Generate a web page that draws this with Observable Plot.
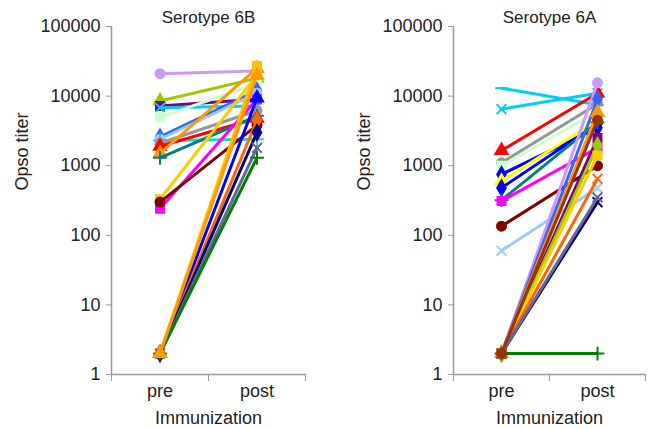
<!DOCTYPE html>
<html>
<head>
<meta charset="utf-8">
<script src="https://cdn.jsdelivr.net/npm/d3@7"></script>
<script src="https://cdn.jsdelivr.net/npm/@observablehq/plot@0.6"></script>
<style>
  html, body { margin: 0; padding: 0; background: #fff; }
  #wrap { position: relative; width: 655px; height: 429px; overflow: hidden; }
  #left { position: absolute; left: 0; top: 0; }
  #right { position: absolute; left: 327px; top: 0; }
</style>
</head>
<body>
<div id="wrap"><div id="left"></div><div id="right"></div></div>
<script>
// ---- shared labels ----
const categories = ["pre", "post"];
const yTicks = [1, 10, 100, 1000, 10000, 100000];
const yLabel = "Opso titer";
const xLabel = "Immunization";

// ---- Serotype 6B ----
const title6B = "Serotype 6B";
const pre6B  = [21000, 8500, 7200, 6800, 5000, 2600, 2400, 2300, 2100, 1900, 1500, 1300, 330, 240, 300, 2, 2, 2, 2, 2, 2, 2];
const post6B = [23000, 18000, 9000, 7200, 15000, 12000, 11000, 2400, 6200, 4800, 25000, 5200, 20000, 9000, 3800, 9400, 4500, 27000, 3000, 1800, 1300, 20000];
const colors6B = ["#cc99ff", "#99cc00", "#800080", "#00ccff", "#ccffcc", "#3366ff", "#99ccff", "#33cccc", "#969696", "#ff0000", "#ff9900", "#008080", "#ffcc00", "#ff00ff", "#800000", "#0000ff", "#ff6600", "#ffc000", "#000080", "#666699", "#008000", "#ff9900"];
const symbols6B = ["circle", "triangle", "square", "times", "square", "diamond", "circle", "plus", "circle", "triangle", "triangle", "plus", "square", "square", "circle", "triangle", "diamond", "square", "diamond", "times", "plus", "triangle"];

// ---- Serotype 6A ----
const title6A = "Serotype 6A";
const pre6A  = [13000, 6500, 1650, 1100, 1000, 750, 600, 480, 320, 310, 135, 60, 2, 2, 2, 2, 2, 2, 2, 2, 2, 2, 2];
const post6A = [7500, 11000, 11000, 7700, 6000, 3500, 4500, 4000, 4200, 1800, 1000, 480, 15500, 9000, 2500, 1950, 1400, 650, 5800, 300, 350, 2, 4500];
const colors6A = ["#00ccff", "#00ccff", "#ff0000", "#969696", "#ccffcc", "#0000ff", "#ffff00", "#0000ff", "#008080", "#ff00ff", "#800000", "#99ccff", "#cc99ff", "#3366ff", "#800080", "#99cc00", "#ffcc00", "#ff6600", "#ff9900", "#000080", "#666699", "#008000", "#993300"];
const symbols6A = ["dash", "times", "triangle", "circle", "square", "diamond", "triangle", "diamond", "plus", "square", "circle", "times", "circle", "diamond", "square", "diamond", "square", "times", "triangle", "times", "times", "plus", "circle"];

const dashSymbol = {
  draw(context, size) {
    const r = Math.sqrt(size / Math.PI) * 1.4;
    context.moveTo(-r, 0);
    context.lineTo(r, 0);
  }
};
function sym(name) { return name === "dash" ? dashSymbol : name; }

function panel(el, cfg) {
  const rows = [];
  cfg.pre.forEach((v, i) => {
    rows.push({id: i, x: 0.5, v, c: cfg.colors[i], s: cfg.symbols[i]});
    rows.push({id: i, x: 1.5, v: cfg.post[i], c: cfg.colors[i], s: cfg.symbols[i]});
  });
  const seriesMarks = [];
  cfg.pre.forEach((_, i) => {
    const sub = rows.filter(r => r.id === i);
    seriesMarks.push(Plot.line(sub, {x: "x", y: "v", stroke: "c", strokeWidth: 3}));
    seriesMarks.push(Plot.dot(sub, {x: "x", y: "v", symbol: sym(cfg.symbols[i]), r: 4.5, fill: "c", stroke: "c", strokeWidth: 2}));
  });
  const chart = Plot.plot({
    width: cfg.width,
    height: 429,
    marginTop: 26,
    marginBottom: 55,
    marginLeft: cfg.marginLeft,
    marginRight: cfg.marginRight,
    style: {fontFamily: "'Liberation Sans', Arial, sans-serif", fontSize: "18px", color: "#222", background: "#fff", overflow: "visible"},
    x: {type: "linear", domain: [0, 2], axis: null},
    y: {type: "log", domain: [1, 100000], axis: null},
    color: {type: "identity"},
    marks: [
      Plot.axisY({ticks: yTicks, tickFormat: d => String(d), tickSize: 5, tickPadding: 6, stroke: "#999", label: null}),
      Plot.axisX({ticks: [0, 1, 2], tickFormat: () => "", tickSize: 7, stroke: "#999", label: null}),
      Plot.axisX({ticks: [0.5, 1.5], tickFormat: d => categories[Math.floor(d)], tickSize: 0, tickPadding: 10, label: null}),
      Plot.ruleX([0], {stroke: "#999", strokeWidth: 1.5}),
      Plot.ruleY([1], {stroke: "#999", strokeWidth: 1.5}),
      ...seriesMarks,
      Plot.text([cfg.title], {frameAnchor: "top", dy: -9, lineAnchor: "middle", fontSize: 17}),
      Plot.text([yLabel], {frameAnchor: "left", rotate: -90, dx: -89, dy: -10, lineAnchor: "middle"}),
      Plot.text([xLabel], {frameAnchor: "bottom", dy: 44, lineAnchor: "middle"})
    ]
  });
  el.appendChild(chart);
}

panel(document.getElementById("left"), {
  title: title6B, pre: pre6B, post: post6B, colors: colors6B, symbols: symbols6B,
  width: 327, marginLeft: 111, marginRight: 22
});
panel(document.getElementById("right"), {
  title: title6A, pre: pre6A, post: post6A, colors: colors6A, symbols: symbols6A,
  width: 328, marginLeft: 126, marginRight: 10
});
</script>
</body>
</html>
